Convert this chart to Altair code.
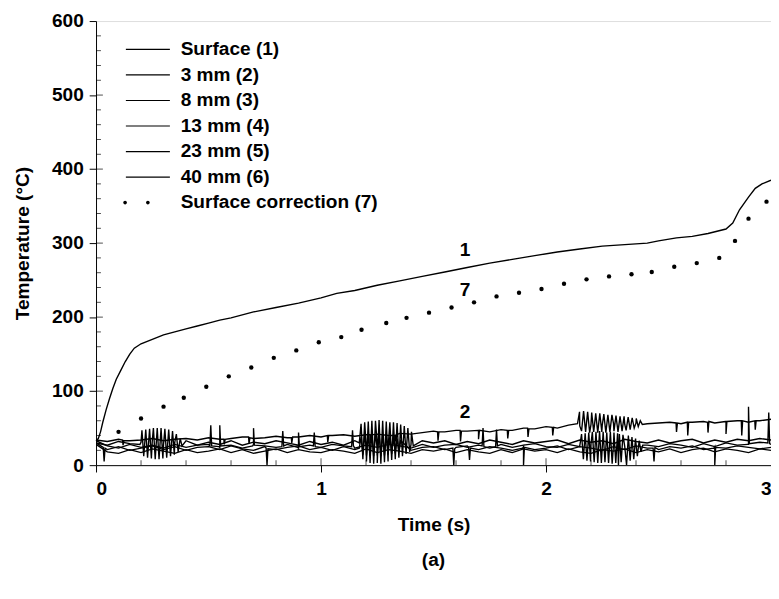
import altair as alt
import pandas as pd

FONT = "Liberation Sans"

# ---------------- data ----------------
# Surface (1)
SURF_T = [0.00, 0.01, 0.02, 0.03, 0.045, 0.06, 0.075, 0.09, 0.11, 0.13, 0.15, 0.17, 0.20, 0.25,
          0.30, 0.35, 0.40, 0.45, 0.50, 0.55, 0.60, 0.70, 0.80, 0.90, 1.00, 1.07, 1.15, 1.25,
          1.35, 1.45, 1.55, 1.65, 1.75, 1.85, 1.95, 2.05, 2.15, 2.25, 2.35, 2.45, 2.50, 2.58,
          2.65, 2.72, 2.80, 2.83, 2.86, 2.90, 2.93, 2.96, 3.00]
SURF_V = [33, 36, 45, 58, 75, 90, 104, 116, 128, 140, 150, 158, 164, 170,
          176, 180, 184, 188, 192, 196, 199, 207, 213, 219, 226, 232, 236, 243,
          249, 255, 261, 267, 273, 278, 283, 288, 292, 296, 298, 300, 303, 307,
          309, 313, 319, 327, 345, 362, 374, 380, 385]

# Surface correction (7)
CORR_T = [0.10, 0.20, 0.30, 0.39, 0.49, 0.59, 0.69, 0.79, 0.89, 0.99, 1.09, 1.18, 1.29, 1.38,
          1.48, 1.58, 1.68, 1.78, 1.88, 1.98, 2.08, 2.18, 2.28, 2.38, 2.47, 2.57, 2.67, 2.77,
          2.84, 2.90, 2.98]
CORR_V = [45, 63, 79, 91, 106, 120, 132, 145, 155, 166, 173, 183, 192, 199,
          206, 213, 220, 228, 233, 238, 245, 251, 255, 258, 261, 268, 273, 280,
          303, 333, 356]

# thermocouple records sampled every 0.05 s from 0 to 3 s
S2_V = [34, 32, 35, 33, 34, 36, 33, 35, 36, 34,
        37, 35, 36, 38, 36, 37, 39, 37, 38, 40,
        38, 40, 41, 39, 41, 42, 40, 43, 42, 44,
        46, 45, 47, 46, 47, 45, 48, 47, 50, 49,
        52, 50, 54, 53, 55, 54, 56, 55, 57, 56,
        57, 58, 56, 58, 59, 57, 59, 60, 58, 60,
        62]
S3_V = [30, 27, 32, 29, 31, 33, 28, 31, 33, 27,
        31, 28, 33, 27, 31, 29, 33, 30, 27, 32,
        28, 31, 27, 33, 30, 28, 32, 30, 28, 33,
        30, 33, 28, 32, 29, 34, 31, 28, 33, 30,
        32, 34, 29, 34, 31, 33, 29, 35, 32, 30,
        34, 30, 33, 35, 30, 34, 31, 35, 33, 36,
        34]
S4_V = [33, 26, 23, 28, 24, 27, 23, 28, 24, 27,
        28, 24, 27, 23, 28, 26, 24, 28, 23, 27,
        24, 28, 26, 23, 27, 24, 28, 26, 23, 28,
        24, 27, 28, 24, 27, 23, 28, 24, 27, 29,
        25, 24, 28, 25, 29, 24, 28, 25, 29, 27,
        25, 29, 27, 24, 29, 25, 30, 27, 28, 31,
        28]
S5_V = [30, 21, 25, 20, 23, 26, 21, 25, 20, 24,
        25, 21, 26, 22, 20, 25, 21, 24, 26, 21,
        24, 20, 25, 21, 26, 23, 21, 25, 20, 24,
        25, 21, 24, 26, 21, 25, 23, 20, 25, 21,
        23, 26, 21, 25, 23, 20, 25, 21, 26, 23,
        21, 25, 23, 26, 21, 25, 23, 26, 24, 22,
        24]
S6_V = [28, 18, 16, 21, 17, 22, 19, 16, 21, 17,
        19, 22, 17, 21, 16, 19, 22, 17, 21, 18,
        17, 21, 19, 16, 22, 17, 21, 19, 16, 21,
        19, 22, 17, 21, 18, 16, 21, 17, 22, 19,
        21, 17, 22, 18, 16, 21, 19, 22, 17, 21,
        18, 22, 17, 21, 23, 18, 22, 20, 17, 22,
        20]

# extra readings: dips, spikes and oscillation bursts (time, value)
S2_EXTRA = [(0.118, 34), (0.12, 27), (0.124, 33), (0.568, 35), (0.57, 28), (0.574, 35),
            (0.678, 38), (0.68, 29), (0.684, 37), (0.868, 37), (0.87, 30), (0.874, 38),
            (1.028, 40), (1.03, 31), (1.034, 40), (1.218, 41), (1.22, 30), (1.224, 41),
            (1.328, 40), (1.33, 32), (1.334, 41), (1.518, 45), (1.52, 33), (1.524, 45),
            (1.618, 47), (1.62, 32), (1.624, 46), (1.698, 47), (1.70, 35), (1.704, 47),
            (1.828, 47), (1.83, 36), (1.834, 47), (1.918, 50), (1.92, 38), (1.924, 49),
            (2.028, 51), (2.03, 40), (2.034, 51),
            (2.140, 56), (2.149, 72), (2.158, 46), (2.167, 73), (2.176, 45), (2.185, 72),
            (2.194, 44), (2.203, 71), (2.212, 45), (2.221, 70), (2.230, 44), (2.239, 70),
            (2.248, 45), (2.257, 69), (2.266, 44), (2.275, 68), (2.284, 45), (2.293, 68),
            (2.302, 46), (2.311, 67), (2.320, 45), (2.329, 66), (2.338, 46), (2.347, 66),
            (2.356, 47), (2.365, 65), (2.374, 48), (2.383, 64), (2.392, 50), (2.401, 63),
            (2.410, 52), (2.419, 60), (2.428, 55),
            (2.578, 57), (2.58, 45), (2.584, 57), (2.628, 58), (2.63, 40), (2.634, 58),
            (2.718, 58), (2.72, 44), (2.724, 59), (2.798, 59), (2.80, 42), (2.804, 59),
            (2.868, 60), (2.87, 40), (2.874, 60), (2.928, 60), (2.93, 48), (2.934, 60)]
S3_EXTRA = [(0.195, 28), (0.204, 47), (0.212, 12), (0.221, 48), (0.229, 10), (0.238, 49),
            (0.246, 9), (0.255, 50), (0.263, 8), (0.272, 50), (0.280, 8), (0.289, 50),
            (0.297, 9), (0.306, 49), (0.314, 10), (0.323, 48), (0.331, 12), (0.340, 46),
            (0.348, 14), (0.357, 42), (0.365, 18), (0.374, 36), (0.382, 26),
            (1.170, 30), (1.178, 56), (1.186, 8), (1.194, 58), (1.202, 5), (1.210, 59),
            (1.218, 3), (1.226, 60), (1.234, 2), (1.242, 60), (1.250, 3), (1.258, 61),
            (1.266, 2), (1.274, 60), (1.282, 4), (1.290, 59), (1.298, 5), (1.306, 58),
            (1.314, 7), (1.322, 58), (1.330, 8), (1.338, 57), (1.346, 10), (1.354, 55),
            (1.362, 12), (1.370, 53), (1.378, 15), (1.386, 50), (1.394, 18), (1.402, 45),
            (1.410, 26)]
S4_EXTRA = [(0.506, 26), (0.51, 54), (0.514, 26), (0.546, 25), (0.55, 54), (0.554, 26),
            (0.696, 26), (0.70, 50), (0.704, 27), (0.826, 25), (0.83, 46), (0.834, 26),
            (0.896, 24), (0.90, 44), (0.904, 25), (0.966, 26), (0.97, 44), (0.974, 25),
            (1.136, 25), (1.14, 47), (1.144, 26), (1.716, 26), (1.72, 50), (1.724, 25),
            (1.776, 25), (1.78, 48), (1.784, 26),
            (2.150, 26), (2.158, 42), (2.166, 8), (2.174, 43), (2.182, 6), (2.190, 44),
            (2.198, 5), (2.206, 45), (2.214, 4), (2.222, 45), (2.230, 3), (2.238, 46),
            (2.246, 3), (2.254, 45), (2.262, 4), (2.270, 44), (2.278, 3), (2.286, 45),
            (2.294, 2), (2.302, 44), (2.310, 3), (2.318, 43), (2.322, 0), (2.326, 42),
            (2.334, 4), (2.342, 41), (2.358, 0), (2.366, 40), (2.374, 6), (2.382, 38),
            (2.390, 8), (2.398, 36), (2.406, 12), (2.414, 33), (2.422, 18), (2.430, 27),
            (2.896, 28), (2.90, 79), (2.904, 29), (2.986, 30), (2.99, 71), (2.994, 29)]
S5_EXTRA = [(0.032, 24), (0.036, 5), (0.040, 23), (0.756, 23), (0.76, 0), (0.764, 22),
            (1.170, 23), (1.178, 38), (1.186, 14), (1.194, 40), (1.202, 13), (1.210, 41),
            (1.218, 12), (1.226, 42), (1.234, 12), (1.242, 42), (1.250, 13), (1.258, 41),
            (1.266, 12), (1.274, 42), (1.282, 13), (1.290, 40), (1.298, 14), (1.306, 39),
            (1.314, 15), (1.322, 38), (1.330, 16), (1.338, 36), (1.346, 18), (1.354, 33),
            (1.586, 23), (1.59, 0), (1.594, 22), (1.656, 24), (1.66, 7), (1.664, 23),
            (1.896, 23), (1.90, 0), (1.904, 24), (2.476, 23), (2.48, 5), (2.484, 24),
            (2.746, 23), (2.75, 0), (2.754, 24)]

# curve labels
ANNO_T = [1.64, 1.64, 1.64]
ANNO_V = [291, 237, 72]
ANNO_TEXT = ["1", "7", "2"]

LEGEND_LABELS = ["Surface (1)", "3 mm (2)", "8 mm (3)", "13 mm (4)", "23 mm (5)",
                 "40 mm (6)", "Surface correction (7)"]

X_MAJOR = [0, 1, 2, 3]
X_MINOR = [0.2, 0.4, 0.6, 0.8, 1.2, 1.4, 1.6, 1.8, 2.2, 2.4, 2.6, 2.8]
Y_MAJOR = [0, 100, 200, 300, 400, 500, 600]
Y_MINOR = [20, 40, 60, 80, 120, 140, 160, 180, 220, 240, 260, 280, 320, 340, 360, 380,
           420, 440, 460, 480, 520, 540, 560, 580]

# ---------------- build tables ----------------
def series_rows(name, values, extra):
    n = len(values)
    pts = [(3.0 * i / (n - 1), v) for i, v in enumerate(values)] + list(extra)
    pts.sort(key=lambda p: p[0])
    return [{"t": t, "T": v, "s": name} for t, v in pts]

rows = []
rows += series_rows("s2", S2_V, S2_EXTRA)
rows += series_rows("s3", S3_V, S3_EXTRA)
rows += series_rows("s4", S4_V, S4_EXTRA)
rows += series_rows("s5", S5_V, S5_EXTRA)
rows += series_rows("s6", S6_V, [])
noisy = pd.DataFrame(rows)
noisy["i"] = range(len(noisy))

surf = pd.DataFrame({"t": SURF_T, "T": SURF_V})
corr = pd.DataFrame({"t": CORR_T, "T": CORR_V})
anno = pd.DataFrame({"t": ANNO_T, "T": ANNO_V, "txt": ANNO_TEXT})
leg = pd.DataFrame({"lab": LEGEND_LABELS})

W, H = 690, 454
FS = 19.5

xs = alt.Scale(domain=[0, 3], nice=False, zero=False)
ys = alt.Scale(domain=[0, 600], nice=False)

x_axis = alt.Axis(values=X_MAJOR, title="Time (s)", format="d", grid=False,
                  labelFont=FONT, labelFontSize=FS, labelFontWeight="bold",
                  titleFont=FONT, titleFontSize=FS, titleFontWeight="bold",
                  tickSize=7, labelPadding=8, titlePadding=18,
                  domainColor="black", tickColor="black", labelColor="black",
                  titleColor="black")
y_axis = alt.Axis(values=Y_MAJOR, title="Temperature (°C)", grid=False,
                  labelFont=FONT, labelFontSize=FS, labelFontWeight="bold",
                  titleFont=FONT, titleFontSize=FS, titleFontWeight="bold",
                  tickSize=7, labelPadding=6, titlePadding=19,
                  domainColor="black", tickColor="black", labelColor="black",
                  titleColor="black")

X = alt.X("t:Q", scale=xs, axis=x_axis)
Y = alt.Y("T:Q", scale=ys, axis=y_axis)

noisy_layer = alt.Chart(noisy).mark_line(color="black", strokeWidth=1.4, clip=True).encode(
    x=alt.X("t:Q", scale=xs), y=alt.Y("T:Q", scale=ys), detail="s:N", order="i:Q")

surf_layer = alt.Chart(surf).mark_line(color="black", strokeWidth=1.4).encode(x=X, y=Y)

corr_layer = alt.Chart(corr).mark_circle(color="black", size=20, opacity=1).encode(
    x=alt.X("t:Q", scale=xs), y=alt.Y("T:Q", scale=ys))

anno_layer = alt.Chart(anno).mark_text(font=FONT, fontSize=FS, fontWeight="bold",
                                       color="black").encode(
    x=alt.X("t:Q", scale=xs), y=alt.Y("T:Q", scale=ys), text="txt:N")

# inner tick marks
xmin_df = pd.DataFrame({"v": X_MINOR})
xmaj_df = pd.DataFrame({"v": X_MAJOR[1:3]})
ymin_df = pd.DataFrame({"v": Y_MINOR})
ymaj_df = pd.DataFrame({"v": Y_MAJOR[1:6]})

xmin_layer = alt.Chart(xmin_df).mark_tick(color="black", thickness=1, size=5, orient="vertical").encode(
    x=alt.X("v:Q", scale=xs), y=alt.value(H - 2.5))
xmaj_layer = alt.Chart(xmaj_df).mark_tick(color="black", thickness=1, size=7, orient="vertical").encode(
    x=alt.X("v:Q", scale=xs), y=alt.value(H - 3.5))
ymin_layer = alt.Chart(ymin_df).mark_tick(color="black", thickness=1, size=5, orient="horizontal").encode(
    y=alt.Y("v:Q", scale=ys), x=alt.value(2.5))
ymaj_layer = alt.Chart(ymaj_df).mark_tick(color="black", thickness=1, size=7, orient="horizontal").encode(
    y=alt.Y("v:Q", scale=ys), x=alt.value(3.5))

LINE_PATH = "M-2.25,-0.06L2.25,-0.06L2.25,0.06L-2.25,0.06Z"
DOT_PATH = ("M-2.52,0a0.19,0.19 0 1,0 0.38,0a0.19,0.19 0 1,0 -0.38,0Z"
            "M-0.19,0a0.19,0.19 0 1,0 0.38,0a0.19,0.19 0 1,0 -0.38,0Z")

legend_layer = alt.Chart(leg).mark_point(filled=True, color="black", opacity=0, size=400).encode(
    x=alt.value(5), y=alt.value(5),
    shape=alt.Shape("lab:N",
                    scale=alt.Scale(domain=LEGEND_LABELS, range=[LINE_PATH] * 6 + [DOT_PATH]),
                    legend=alt.Legend(title=None, orient="none", legendX=43, legendY=19,
                                      symbolSize=400, symbolFillColor="black",
                                      symbolStrokeWidth=0, symbolOpacity=1,
                                      labelFont=FONT, labelFontSize=FS, labelFontWeight="bold",
                                      labelColor="black", labelOffset=23.5, rowPadding=6.1,
                                      padding=0, labelLimit=400)))

chart = alt.layer(
    surf_layer, noisy_layer, corr_layer, anno_layer,
    xmin_layer, xmaj_layer, ymin_layer, ymaj_layer, legend_layer
).properties(
    width=W, height=H,
    title=alt.TitleParams("(a)", orient="bottom", anchor="middle", font=FONT, fontSize=FS,
                          fontWeight="bold", color="black", offset=18),
    autosize=alt.AutoSizeParams(type="none"),
    padding={"left": 90, "top": 7, "right": 0, "bottom": 108},
).configure_view(stroke="black", strokeWidth=1).configure(background="white")

chart.save("out.html", embed_options={"renderer": "svg", "actions": False})
